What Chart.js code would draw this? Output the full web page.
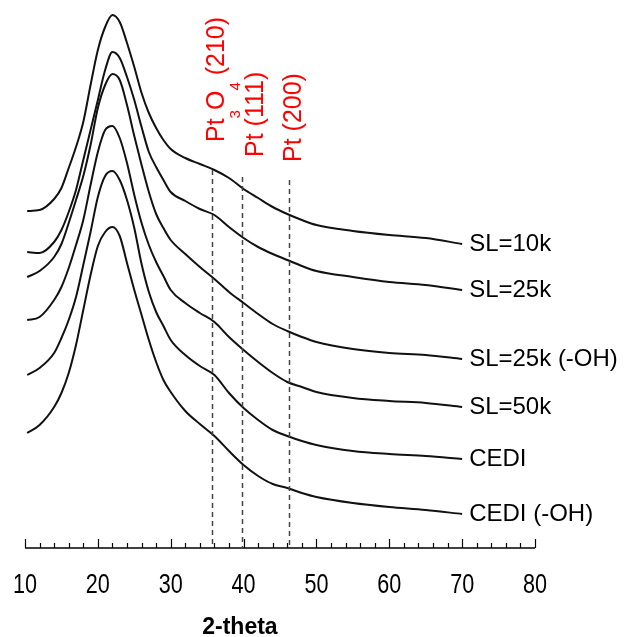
<!DOCTYPE html>
<html>
<head>
<meta charset="utf-8">
<script src="https://cdn.jsdelivr.net/npm/chart.js@4"></script>
<style>
  html, body { margin: 0; padding: 0; background: #fff; }
  canvas { display: block; }
</style>
</head>
<body>
<canvas id="xrdChart" width="629" height="637"></canvas>
<script>
// 2-theta positions (degrees) where the patterns were read
const twoTheta = [10.3, 12, 14, 15, 16, 17, 18, 19, 20, 21, 22, 23, 24, 25, 26, 27, 28, 29, 30, 32, 34, 36, 38, 40, 42, 44, 46, 48, 50, 55, 60, 65, 70];

// sample names, top to bottom
const sampleNames = ["SL=10k", "SL=25k", "SL=25k (-OH)", "SL=50k", "CEDI", "CEDI (-OH)"];

// stacked intensities (a.u., offsets included)
const sl10k     = [337, 338, 349, 360, 380, 401, 426, 463, 498, 521, 533, 526, 505, 481, 455, 435, 420, 408, 399, 390, 384, 378, 370, 359, 350, 341, 334, 328, 323, 317, 313, 310, 304];
const sl25k     = [296, 295, 306, 318, 336, 358, 388, 418, 448, 478, 496, 490, 471, 448, 421, 396, 381, 368, 356, 347, 339, 333, 321, 310, 301, 294, 288, 282, 277, 271, 266, 263, 258];
const sl25kOH   = [271, 277, 291, 304, 325, 348, 372, 403, 440, 463, 474, 468, 443, 412, 383, 356, 334, 320, 308, 294, 281, 269, 256, 245, 234, 224, 217, 211, 206, 199, 195, 193, 189];
const sl50k     = [228, 231, 248, 261, 280, 303, 328, 363, 396, 418, 422, 410, 385, 353, 325, 303, 286, 272, 258, 245, 235, 226, 211, 198, 186, 175, 166, 161, 156, 150, 147, 145, 141];
const cedi      = [173, 180, 195, 210, 228, 251, 283, 316, 351, 372, 377, 368, 348, 320, 284, 256, 236, 222, 208, 193, 182, 173, 155, 140, 128, 118, 112, 107, 103, 97, 94, 92, 89];
const cediOH    = [115, 123, 141, 155, 175, 203, 238, 273, 302, 316, 321, 312, 285, 258, 233, 208, 186, 168, 156, 137, 124, 112, 97, 83, 72, 64, 60, 55, 51, 45, 41, 38, 34];
const allSeries = [sl10k, sl25k, sl25kOH, sl50k, cedi, cediOH];

// reference reflections
const peakPositions = [35.6, 39.8, 46.2];
const peakLineTops = [378, 371, 368];
const peakLabels = [
    [["Pt", false], ["3", true], ["O", false], ["4", true], [" (210)", false]],
    [["Pt (111)", false]],
    [["Pt (200)", false]]
];

// x axis ticks
const xTickLabels = [10, 20, 30, 40, 50, 60, 70, 80];
const xMinorStep = 2;

const SANS = "'Liberation Sans', Arial, sans-serif";

// axis, inward ticks, dashed reflections, labels and axis title
const annotate = {
    id: "annotate",
    afterDraw(chart) {
        const { ctx, chartArea } = chart;
        const x = chart.scales.x;
        const y = chart.scales.y;
        const bottom = chartArea.bottom;
        const first = xTickLabels[0];
        const last = xTickLabels[xTickLabels.length - 1];
        ctx.save();

        // axis line
        ctx.strokeStyle = "#000";
        ctx.lineWidth = 1.5;
        ctx.beginPath();
        ctx.moveTo(x.getPixelForValue(first), bottom);
        ctx.lineTo(x.getPixelForValue(last), bottom);
        ctx.stroke();

        // tick marks pointing up into the plot
        ctx.lineWidth = 1.2;
        for (let v = first; v <= last; v += xMinorStep) {
            const px = Math.round(x.getPixelForValue(v)) + 0.5;
            const len = xTickLabels.includes(v) ? 9 : 5;
            ctx.beginPath();
            ctx.moveTo(px, bottom);
            ctx.lineTo(px, bottom - len);
            ctx.stroke();
        }

        // tick labels, a narrow sans face
        ctx.fillStyle = "#000";
        ctx.font = "27px " + SANS;
        ctx.textAlign = "center";
        ctx.textBaseline = "middle";
        xTickLabels.forEach(v => {
            ctx.save();
            ctx.translate(x.getPixelForValue(v), bottom + 38);
            ctx.scale(0.8, 1);
            ctx.fillText(String(v), 0, 0);
            ctx.restore();
        });

        // dashed reflection markers
        ctx.strokeStyle = "#444";
        ctx.lineWidth = 1.5;
        ctx.setLineDash([5, 4]);
        peakPositions.forEach((p, i) => {
            const px = Math.round(x.getPixelForValue(p)) + 0.5;
            ctx.beginPath();
            ctx.moveTo(px, y.getPixelForValue(peakLineTops[i]));
            ctx.lineTo(px, bottom);
            ctx.stroke();
        });
        ctx.setLineDash([]);

        // red rotated reflection names
        const labelShift = [12, 21, 12];   // px right of the line (baseline)
        const labelGap = [28, 20, 18];     // px above the line top
        ctx.fillStyle = "#ff0000";
        ctx.textBaseline = "alphabetic";
        ctx.textAlign = "left";
        peakLabels.forEach((parts, i) => {
            const px = x.getPixelForValue(peakPositions[i]) + labelShift[i];
            const py = y.getPixelForValue(peakLineTops[i]) - labelGap[i];
            ctx.save();
            ctx.translate(px, py);
            ctx.rotate(-Math.PI / 2);
            let cursor = 0;
            parts.forEach(([txt, sub]) => {
                ctx.font = sub ? "15px " + SANS : "25px " + SANS;
                ctx.fillText(txt, cursor, sub ? 16 : 0);
                cursor += ctx.measureText(txt).width;
            });
            ctx.restore();
        });

        // sample names at the end of each pattern
        ctx.fillStyle = "#000";
        ctx.font = "24px " + SANS;
        ctx.textBaseline = "middle";
        const lastX = twoTheta[twoTheta.length - 1];
        allSeries.forEach((s, i) => {
            ctx.fillText(sampleNames[i], x.getPixelForValue(lastX) + 7, y.getPixelForValue(s[s.length - 1]));
        });

        // axis title
        ctx.font = "bold 23px " + SANS;
        ctx.textAlign = "center";
        ctx.textBaseline = "alphabetic";
        ctx.fillText("2-theta", x.getPixelForValue(39.5), 634);

        ctx.restore();
    }
};

const ctx = document.getElementById("xrdChart").getContext("2d");
new Chart(ctx, {
    type: "scatter",
    data: {
        datasets: allSeries.map((s, i) => ({
            label: sampleNames[i],
            data: twoTheta.map((t, j) => ({ x: t, y: s[j] })),
            showLine: true,
            borderColor: "#111",
            borderWidth: 2,
            pointRadius: 0,
            fill: false,
            cubicInterpolationMode: "monotone"
        }))
    },
    options: {
        responsive: false,
        devicePixelRatio: 1,
        animation: false,
        layout: { padding: { left: 25, right: 94, top: 5, bottom: 89 } },
        plugins: {
            legend: { display: false },
            tooltip: { enabled: false }
        },
        scales: {
            x: { type: "linear", display: false, min: 10, max: 80 },
            y: { display: false, min: 0, max: 543 }
        }
    },
    plugins: [annotate]
});
</script>
</body>
</html>
